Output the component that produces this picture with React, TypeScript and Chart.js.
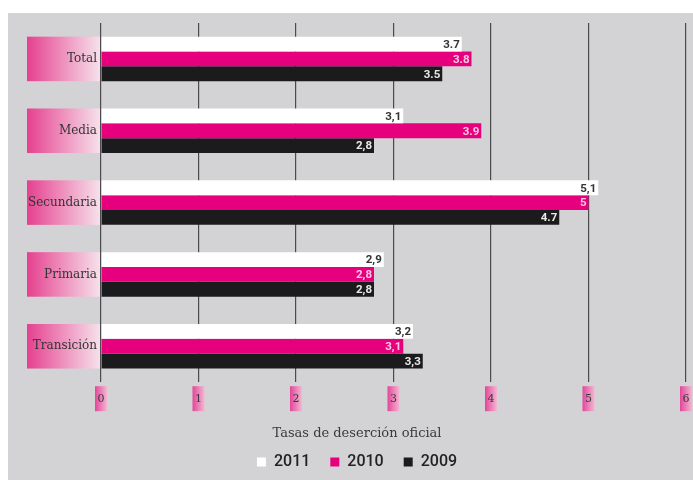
import React, { useEffect, useRef } from "react";
import { Chart, registerables } from "chart.js";

Chart.register(...registerables);

const categories = ["Total", "Media", "Secundaria", "Primaria", "Transición"];
const seriesNames = ["2011", "2010", "2009"];
const values2011 = [3.7, 3.1, 5.1, 2.9, 3.2];
const values2010 = [3.8, 3.9, 5, 2.8, 3.1];
const values2009 = [3.5, 2.8, 4.7, 2.8, 3.3];
const labels2011 = ["3.7", "3,1", "5,1", "2,9", "3,2"];
const labels2010 = ["3.8", "3.9", "5", "2,8", "3,1"];
const labels2009 = ["3.5", "2,8", "4.7", "2,8", "3,3"];
const xTicks = [0, 1, 2, 3, 4, 5, 6];
const axisTitle = "Tasas de deserción oficial";

const PINK = "#e6007e";
const BLACK = "#1b1a1c";
const WHITE = "#ffffff";
const PANEL = "#d3d3d5";

function pinkGradient(ctx: CanvasRenderingContext2D, x0: number, x1: number) {
  const g = ctx.createLinearGradient(x0, 0, x1, 0);
  g.addColorStop(0, "#e4418f");
  g.addColorStop(0.35, "#ec7ab0");
  g.addColorStop(1, "#f6e3ec");
  return g;
}

const decorPlugin = {
  id: "decor",
  beforeDraw(chart: any) {
    const { ctx, chartArea } = chart;
    ctx.save();
    ctx.fillStyle = "#ffffff";
    ctx.fillRect(0, 0, chart.width, chart.height);
    ctx.fillStyle = PANEL;
    ctx.fillRect(8, 13, chart.width - 8, chart.height - 13);

    // category label boxes
    const m0 = chart.getDatasetMeta(0);
    const m2 = chart.getDatasetMeta(2);
    categories.forEach((_, i) => {
      const top = m0.data[i].y - m0.data[i].height / 2;
      const bottom = m2.data[i].y + m2.data[i].height / 2;
      ctx.fillStyle = pinkGradient(ctx, 27, chartArea.left);
      ctx.fillRect(27, top, chartArea.left - 27, bottom - top);
    });

    // tick label boxes
    const xs = chart.scales.x;
    xTicks.forEach((v) => {
      const x = xs.getPixelForValue(v);
      const g = ctx.createLinearGradient(x - 6, 0, x + 6, 0);
      g.addColorStop(0, "#e2479a");
      g.addColorStop(1, "#f3b6d2");
      ctx.fillStyle = g;
      ctx.fillRect(x - 6, chartArea.bottom + 4, 12, 25);
    });
    ctx.restore();
  },
  afterDatasetsDraw(chart: any) {
    const { ctx } = chart;
    const labelSets = [labels2011, labels2010, labels2009];
    const colors = ["#333333", "#f6c9df", "#e8e8e8"];
    ctx.save();
    ctx.font = "bold 11.5px Roboto, 'Liberation Sans', sans-serif";
    ctx.textAlign = "right";
    ctx.textBaseline = "middle";
    labelSets.forEach((labels, d) => {
      const meta = chart.getDatasetMeta(d);
      meta.data.forEach((bar: any, i: number) => {
        ctx.fillStyle = colors[d];
        ctx.fillText(labels[i], bar.x - 2, bar.y + 1);
      });
    });
    ctx.restore();
  },
};

export default function App() {
  const ref = useRef<HTMLCanvasElement | null>(null);

  useEffect(() => {
    document.body.style.margin = "0";
    const canvas = ref.current;
    if (!canvas) return;
    const chart = new Chart(canvas, {
      type: "bar",
      data: {
        labels: categories,
        datasets: [
          { label: seriesNames[0], data: values2011, backgroundColor: WHITE, borderWidth: 0 },
          { label: seriesNames[1], data: values2010, backgroundColor: PINK, borderWidth: 0 },
          { label: seriesNames[2], data: values2009, backgroundColor: BLACK, borderWidth: 0 },
        ],
      },
      options: {
        indexAxis: "y",
        responsive: false,
        animation: false,
        devicePixelRatio: 1,
        layout: { padding: { left: 28, right: 7, top: 23, bottom: 0 } },
        datasets: { bar: { categoryPercentage: 0.62, barPercentage: 1.0 } },
        scales: {
          x: {
            type: "linear",
            min: 0,
            max: 6,
            afterBuildTicks: (scale: any) => {
              scale.ticks = xTicks.map((v) => ({ value: v }));
            },
            afterFit: (scale: any) => {
              scale.paddingRight = 0;
              scale.paddingLeft = 0;
            },
            grid: { color: "#4b4b4d", lineWidth: 1.2, drawTicks: false, tickLength: 0 },
            border: { display: false },
            ticks: {
              padding: 10,
              color: "#3a3a3a",
              font: { family: "'DejaVu Serif', serif", size: 11 },
            },
          },
          y: {
            type: "category",
            grid: { display: false, drawTicks: false },
            border: { display: false },
            afterFit: (scale: any) => {
              scale.width = 73;
            },
            ticks: {
              padding: 4,
              color: "#333333",
              font: { family: "'DejaVu Serif', serif", size: 12 },
            },
          },
        },
        plugins: {
          title: {
            display: true,
            text: axisTitle,
            position: "bottom",
            weight: 500,
            color: "#3a3a3a",
            font: { family: "'DejaVu Serif', serif", size: 13, weight: "normal" },
            padding: { top: 10, bottom: -7 },
          } as any,
          legend: {
            position: "bottom",
            labels: {
              boxWidth: 9,
              boxHeight: 9,
              padding: 20,
              color: "#222222",
              font: { family: "Roboto, sans-serif", size: 16, weight: 500 },
            },
          },
          tooltip: { enabled: false },
        },
      },
      plugins: [decorPlugin],
    });
    return () => chart.destroy();
  }, []);

  return <canvas ref={ref} width={693} height={480} style={{ display: "block" }} />;
}
